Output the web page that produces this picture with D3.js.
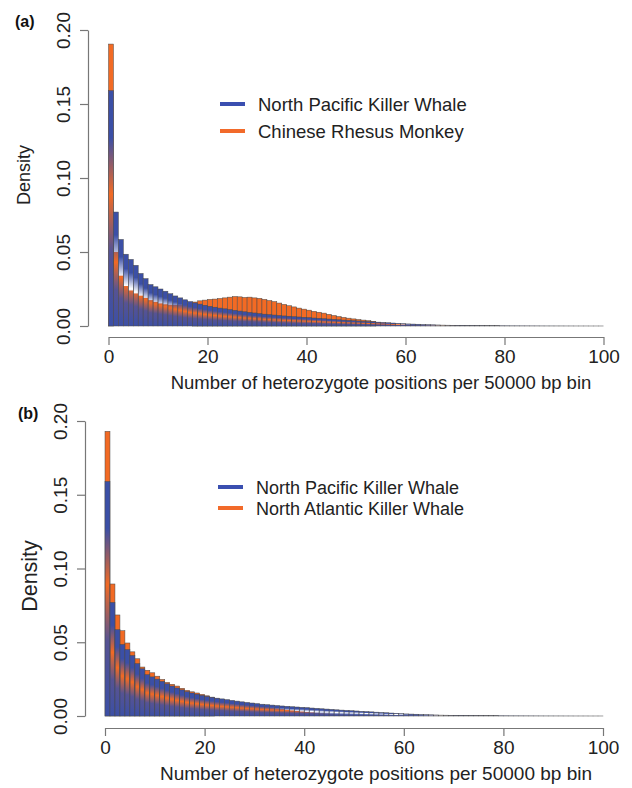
<!DOCTYPE html>
<html>
<head>
<meta charset="utf-8">
<script src="https://cdn.jsdelivr.net/npm/d3@7"></script>
<style>
  body { margin: 0; background: #fff; }
  svg { display: block; font-family: "Liberation Sans", Arial, Helvetica, sans-serif; }
</style>
</head>
<body>
<svg id="chart" width="632" height="788"></svg>
<script>
// bins of heterozygote counts (0..100)
const bins = d3.range(0, 101);
const xTicks = [0, 20, 40, 60, 80, 100];
const yTicks = [0, 0.05, 0.10, 0.15, 0.20];
const yTickLabels = ["0.00", "0.05", "0.10", "0.15", "0.20"];

// density per bin
const northPacific = [
  0.159, 0.077, 0.0585, 0.0485, 0.045, 0.041, 0.0355, 0.032, 0.028, 0.0265,
  0.025, 0.0235, 0.0218, 0.0203, 0.019, 0.0177, 0.0165, 0.0156, 0.0148, 0.014,
  0.0133, 0.0127, 0.0121, 0.0116, 0.0111, 0.0106, 0.0101, 0.0096, 0.0092, 0.0088,
  0.0084, 0.008, 0.0077, 0.0074, 0.0071, 0.0068, 0.0066, 0.0063, 0.0061, 0.0059,
  0.0057, 0.0054, 0.0052, 0.0049, 0.0047, 0.0045, 0.0042, 0.004, 0.0038, 0.0036,
  0.0034, 0.0032, 0.003, 0.0028, 0.0026, 0.0024, 0.0022, 0.002, 0.0018, 0.0016,
  0.0014, 0.0013, 0.0012, 0.001, 0.0009, 0.0008, 0.0007, 0.0006, 0.00055, 0.0005,
  0.00045, 0.0004, 0.00036, 0.00032, 0.00029, 0.00026, 0.00023, 0.0002, 0.00018, 0.00016,
  0.00014, 0.00012, 0.00011, 0.0001, 0.00009, 0.00008, 0.00007, 0.00006, 0.00005, 0.00005,
  0.00004, 0.00004, 0.00003, 0.00003, 0.00002, 0.00002, 0.00002, 0.00001, 0.00001, 0.00001, 0
];
const chineseRhesus = [
  0.1905, 0.05, 0.034, 0.027, 0.024, 0.022, 0.0205, 0.019, 0.0175, 0.0163,
  0.0153, 0.0147, 0.0143, 0.0142, 0.0145, 0.015, 0.0155, 0.0162, 0.017, 0.0175,
  0.018, 0.0182, 0.0186, 0.019, 0.0195, 0.0199, 0.0197, 0.0193, 0.0195, 0.019,
  0.0187, 0.018, 0.0172, 0.0165, 0.0155, 0.0146, 0.0137, 0.0129, 0.0121, 0.0114,
  0.0107, 0.0099, 0.0093, 0.0087, 0.0079, 0.0071, 0.0064, 0.0058, 0.0053, 0.0048,
  0.0044, 0.004, 0.0036, 0.0032, 0.0026, 0.0022, 0.0018, 0.0015, 0.0012, 0.001,
  0.0008, 0.0007, 0.0005, 0.0004, 0.0003, 0.00025, 0.0002, 0.00015, 0.0001, 0.0001,
  0.00008, 0.00006, 0.00005, 0.00004, 0.00003, 0.00002, 0.00002, 0.00001, 0.00001, 0.00001,
  0, 0, 0, 0, 0, 0, 0, 0, 0, 0,
  0, 0, 0, 0, 0, 0, 0, 0, 0, 0, 0
];
const northAtlantic = [
  0.193, 0.0895, 0.0685, 0.0578, 0.0495, 0.0435, 0.0388, 0.0332, 0.031, 0.0293,
  0.027, 0.0248, 0.0228, 0.0215, 0.0203, 0.0188, 0.0174, 0.0164, 0.0156, 0.0147,
  0.0137, 0.0128, 0.0119, 0.0111, 0.0104, 0.0098, 0.0093, 0.0089, 0.0085, 0.008,
  0.0074, 0.0068, 0.0062, 0.0057, 0.0052, 0.0047, 0.0042, 0.0038, 0.0034, 0.003,
  0.0027, 0.0024, 0.0021, 0.0018, 0.0016, 0.0014, 0.0012, 0.001, 0.0009, 0.0008,
  0.0007, 0.0006, 0.0005, 0.00045, 0.0004, 0.00035, 0.0003, 0.00025, 0.0002, 0.00018,
  0.00015, 0.00013, 0.00011, 0.0001, 0.00008, 0.00007, 0.00006, 0.00005, 0.00004, 0.00003,
  0.00003, 0.00002, 0.00002, 0.00002, 0.00001, 0.00001, 0.00001, 0.00001, 0, 0,
  0, 0, 0, 0, 0, 0, 0, 0, 0, 0,
  0, 0, 0, 0, 0, 0, 0, 0, 0, 0, 0
];

const blue = "#3b4fa6";
const orange = "#f26a24";
const svg = d3.select("#chart");

// blue bars fade out in the middle so the orange shows through
const defs = svg.append("defs");
const grad = defs.append("linearGradient")
  .attr("id", "blueFade")
  .attr("x1", 0).attr("y1", 0).attr("x2", 0).attr("y2", 1);
[[0, 1], [0.2, 1], [0.44, 0], [0.68, 0.85], [1, 1]].forEach(s => {
  grad.append("stop").attr("offset", s[0]).attr("stop-color", blue).attr("stop-opacity", s[1]);
});

function drawPanel(p) {
  const x = d3.scaleLinear().domain([0, 100]).range([p.x0, p.x1]);
  const y = d3.scaleLinear().domain([0, 0.2]).range([p.y0, p.y1]);
  const g = svg.append("g");

  // orange series behind (outline only where it sticks out above the blue)
  g.selectAll(".back")
    .data(bins)
    .enter()
    .append("rect")
    .attr("x", d => x(d))
    .attr("y", d => y(p.back[d]))
    .attr("width", x(1) - x(0))
    .attr("height", d => y(0) - y(p.back[d]))
    .attr("fill", orange)
    .attr("stroke", d => p.back[d] > p.front[d] ? "#4a4a4a" : "none")
    .attr("stroke-width", 0.5);

  // blue series in front
  g.selectAll(".front")
    .data(bins)
    .enter()
    .append("rect")
    .attr("x", d => x(d))
    .attr("y", d => y(p.front[d]))
    .attr("width", x(1) - x(0))
    .attr("height", d => y(0) - y(p.front[d]))
    .attr("fill", "url(#blueFade)")
    .attr("stroke", "#4a4a4a")
    .attr("stroke-width", 0.5);

  // x axis, R style
  const xa = g.append("g").attr("transform", "translate(0," + p.xAxisY + ")")
    .call(d3.axisBottom(x).tickValues(xTicks).tickSize(8).tickSizeOuter(0).tickPadding(5));
  xa.select(".domain").attr("stroke", "#777").attr("stroke-width", 1.2);
  xa.selectAll(".tick line").attr("stroke", "#777").attr("stroke-width", 1.2);
  xa.selectAll(".tick text").attr("font-size", 19).attr("fill", "#222")
    .attr("font-family", "Liberation Sans, Arial, sans-serif");

  // y axis with rotated labels
  const ya = g.append("g").attr("transform", "translate(" + p.yAxisX + ",0)")
    .call(d3.axisLeft(y).tickValues(yTicks).tickSize(8).tickSizeOuter(0).tickFormat((d, i) => yTickLabels[i]));
  ya.select(".domain").attr("stroke", "#777").attr("stroke-width", 1.2);
  ya.selectAll(".tick line").attr("stroke", "#777").attr("stroke-width", 1.2);
  ya.selectAll(".tick text").attr("font-size", 19).attr("fill", "#222")
    .attr("font-family", "Liberation Sans, Arial, sans-serif")
    .attr("text-anchor", "middle")
    .attr("x", 0).attr("dy", 0)
    .attr("transform", "translate(-18,0) rotate(-90)");

  // axis titles
  svg.append("text")
    .attr("x", p.xLabelX).attr("y", p.xLabelY)
    .attr("text-anchor", "middle")
    .attr("font-size", p.xLabelSize).attr("fill", "#222")
    .text("Number of heterozygote positions per 50000 bp bin");
  svg.append("text")
    .attr("transform", "translate(" + p.yLabelX + "," + p.yLabelY + ") rotate(-90)")
    .attr("text-anchor", "middle")
    .attr("font-size", p.yLabelSize).attr("fill", "#222")
    .text("Density");
  svg.append("text")
    .attr("x", p.tagX).attr("y", p.tagY)
    .attr("font-size", 16).attr("font-weight", "bold").attr("fill", "#111")
    .text(p.tag);

  // legend
  const lg = svg.append("g").attr("transform", "translate(" + p.legX + "," + p.legY + ")");
  p.legend.forEach((name, i) => {
    const row = lg.append("g").attr("transform", "translate(0," + i * p.legGap + ")");
    row.append("line").attr("x1", 0).attr("x2", 25).attr("y1", 0).attr("y2", 0)
      .attr("stroke", i === 0 ? "#3a4fb0" : "#f26a2a").attr("stroke-width", 4);
    row.append("text").attr("x", 38).attr("y", 6.5)
      .attr("font-size", p.legSize).attr("fill", "#222").text(name);
  });
}

drawPanel({
  tag: "(a)", tagX: 15, tagY: 27,
  x0: 108.5, x1: 603.5, y0: 326, y1: 30,
  xAxisY: 337, yAxisX: 88,
  front: northPacific, back: chineseRhesus,
  xLabelX: 381, xLabelY: 389, xLabelSize: 18.5,
  yLabelX: 30, yLabelY: 175, yLabelSize: 18,
  legX: 220, legY: 104, legGap: 27, legSize: 18.5,
  legend: ["North Pacific Killer Whale", "Chinese Rhesus Monkey"]
});

drawPanel({
  tag: "(b)", tagX: 18, tagY: 419,
  x0: 105, x1: 603, y0: 716, y1: 421,
  xAxisY: 728, yAxisX: 85,
  front: northPacific, back: northAtlantic,
  xLabelX: 376, xLabelY: 780, xLabelSize: 19,
  yLabelX: 37, yLabelY: 576, yLabelSize: 21.5,
  legX: 218, legY: 487, legGap: 21, legSize: 18,
  legend: ["North Pacific Killer Whale", "North Atlantic Killer Whale"]
});
</script>
</body>
</html>
